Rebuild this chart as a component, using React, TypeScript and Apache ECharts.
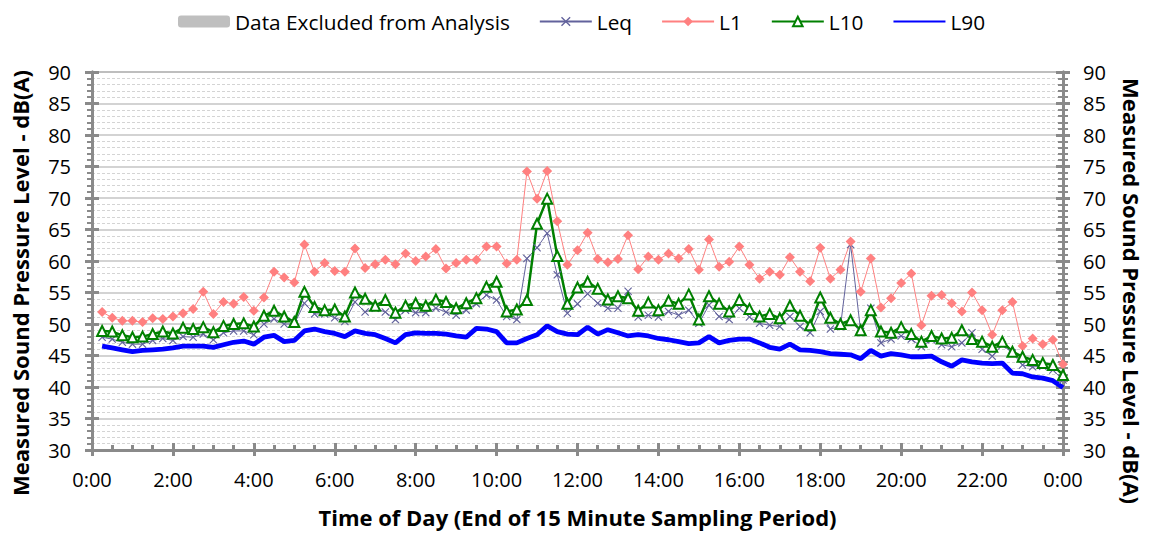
import React, { useEffect, useRef } from "react";
import * as echarts from "echarts";

// End of each 15-minute sampling period
const sampleEnd = [
  "0:15","0:30","0:45","1:00","1:15","1:30","1:45","2:00",
  "2:15","2:30","2:45","3:00","3:15","3:30","3:45","4:00",
  "4:15","4:30","4:45","5:00","5:15","5:30","5:45","6:00",
  "6:15","6:30","6:45","7:00","7:15","7:30","7:45","8:00",
  "8:15","8:30","8:45","9:00","9:15","9:30","9:45","10:00",
  "10:15","10:30","10:45","11:00","11:15","11:30","11:45","12:00",
  "12:15","12:30","12:45","13:00","13:15","13:30","13:45","14:00",
  "14:15","14:30","14:45","15:00","15:15","15:30","15:45","16:00",
  "16:15","16:30","16:45","17:00","17:15","17:30","17:45","18:00",
  "18:15","18:30","18:45","19:00","19:15","19:30","19:45","20:00",
  "20:15","20:30","20:45","21:00","21:15","21:30","21:45","22:00",
  "22:15","22:30","22:45","23:00","23:15","23:30","23:45","24:00",
];

const leq = [
  47.9, 47.6, 47.1, 46.8, 46.8, 47.4, 47.7, 47.4, 48.0, 47.9, 48.4, 47.5,
  48.6, 48.9, 48.9, 48.3, 50.0, 50.8, 50.0, 50.0, 53.3, 51.6, 51.6, 51.0,
  50.4, 53.5, 51.9, 52.5, 51.9, 50.7, 52.2, 51.8, 51.8, 52.5, 51.9, 51.4,
  52.2, 53.2, 54.6, 53.8, 51.2, 50.7, 60.4, 62.1, 64.4, 57.8, 51.7, 53.2,
  54.8, 53.3, 52.5, 52.5, 55.2, 51.1, 51.4, 51.1, 52.0, 51.4, 52.2, 50.1,
  53.0, 51.2, 50.7, 52.5, 51.1, 50.1, 49.8, 49.6, 51.2, 49.6, 48.6, 52.0,
  49.2, 49.6, 62.6, 48.8, 52.5, 47.0, 47.6, 48.1, 47.6, 46.4, 47.5, 46.7,
  46.4, 47.0, 48.6, 46.0, 44.9, 46.7, 45.4, 43.5, 43.2, 43.3, 42.7, 41.1,
];

const l1 = [
  51.9, 51.0, 50.5, 50.5, 50.3, 50.9, 50.8, 51.2, 51.7, 52.4, 55.1, 51.6,
  53.5, 53.2, 54.3, 52.1, 54.2, 58.3, 57.4, 56.6, 62.6, 58.3, 59.7, 58.4,
  58.3, 62.0, 58.9, 59.5, 60.2, 59.5, 61.2, 60.0, 60.7, 61.9, 58.8, 59.7,
  60.2, 60.2, 62.3, 62.3, 59.6, 60.2, 74.2, 69.9, 74.3, 66.3, 59.4, 61.7,
  64.5, 60.3, 59.8, 60.3, 64.1, 58.7, 60.7, 60.2, 61.2, 60.4, 61.9, 58.6,
  63.4, 59.1, 59.9, 62.3, 59.4, 57.2, 58.3, 57.8, 60.6, 58.3, 56.8, 62.1,
  57.2, 58.6, 63.1, 55.1, 60.4, 52.6, 54.1, 56.5, 58.0, 49.8, 54.5, 54.6,
  53.3, 52.0, 55.0, 52.2, 48.3, 52.2, 53.5, 46.5, 47.7, 46.8, 47.5, 43.6,
];

const l10 = [
  48.9, 48.8, 48.2, 47.9, 48.0, 48.4, 48.8, 48.5, 49.4, 49.2, 49.5, 48.7,
  49.7, 50.0, 50.1, 49.6, 51.3, 52.1, 51.2, 50.3, 55.1, 52.7, 52.2, 52.3,
  51.2, 55.0, 54.0, 52.9, 53.8, 51.8, 52.9, 53.3, 52.9, 53.9, 53.5, 52.5,
  53.3, 54.1, 55.9, 56.7, 52.0, 52.3, 53.8, 65.9, 69.9, 60.8, 53.2, 55.8,
  56.7, 55.6, 53.9, 54.4, 54.1, 52.1, 53.4, 52.2, 53.7, 53.2, 54.7, 50.7,
  54.4, 53.2, 52.0, 53.8, 52.4, 51.2, 51.6, 50.9, 52.9, 51.3, 49.8, 54.2,
  51.0, 50.0, 50.6, 49.0, 52.2, 48.8, 48.6, 49.5, 48.4, 47.2, 48.1, 47.7,
  47.8, 49.0, 47.6, 47.2, 46.4, 47.2, 45.6, 44.8, 44.3, 43.8, 43.5, 41.9,
];

const l90 = [
  46.5, 46.2, 45.9, 45.6, 45.8, 45.9, 46.0, 46.2, 46.5, 46.5, 46.5, 46.3,
  46.7, 47.1, 47.3, 46.8, 47.9, 48.2, 47.2, 47.4, 48.9, 49.2, 48.8, 48.5,
  48.0, 48.9, 48.5, 48.3, 47.7, 47.0, 48.3, 48.6, 48.5, 48.5, 48.4, 48.1,
  47.9, 49.3, 49.2, 48.8, 47.0, 47.0, 47.7, 48.3, 49.7, 48.8, 48.4, 48.3,
  49.5, 48.4, 49.1, 48.6, 48.1, 48.3, 48.1, 47.7, 47.5, 47.2, 46.9, 47.0,
  48.0, 47.0, 47.4, 47.6, 47.6, 47.0, 46.3, 46.0, 46.8, 45.9, 45.8, 45.6,
  45.3, 45.2, 45.1, 44.5, 45.8, 44.9, 45.3, 45.1, 44.8, 44.8, 44.9, 44.0,
  43.3, 44.3, 44.0, 43.8, 43.7, 43.8, 42.2, 42.1, 41.6, 41.4, 41.0, 39.9,
];

const seriesNames = ["Data Excluded from Analysis", "Leq", "L1", "L10", "L90"];
const xTitle = "Time of Day (End of 15 Minute Sampling Period)";
const yTitle = "Measured Sound Pressure Level - dB(A)";

const toMinutes = (s: string) => {
  const [h, m] = s.split(":").map(Number);
  return h * 60 + m;
};
const fmtTime = (v: number) => {
  const h = Math.floor(v / 60) % 24;
  const m = Math.round(v % 60);
  return `${h}:${m < 10 ? "0" + m : m}`;
};
const pairs = (vals: number[]) => vals.map((v, i) => [toMinutes(sampleEnd[i]), v]);

const FONT = "Open Sans";
const CROSS =
  "path://M1,0L5,4L9,0L10,1L6,5L10,9L9,10L5,6L1,10L0,9L4,5L0,1Z";

export default function App() {
  const ref = useRef<HTMLDivElement>(null);
  useEffect(() => {
    document.body.style.margin = "0";
    if (!ref.current) return;
    const chart = echarts.init(ref.current, undefined, { renderer: "svg" });
    const axisGrey = "#8A8A8A";
    const titleStyle = { fontFamily: FONT, fontSize: 22, fontWeight: "bold" as const, color: "#000" };
    const yBase = {
      type: "value" as const,
      min: 30,
      max: 90,
      interval: 5,
      axisLine: { show: true, lineStyle: { color: axisGrey, width: 3 } },
    };
    const xBase = {
      type: "value" as const,
      min: 0,
      max: 1440,
      interval: 120,
      axisLine: { show: true, lineStyle: { color: axisGrey, width: 3 } },
    };
    chart.setOption({
      animation: false,
      textStyle: { fontFamily: FONT },
      grid: {
        left: 92,
        right: 84,
        top: 72,
        bottom: 83,
        show: true,
        borderColor: "#595959",
        borderWidth: 1,
      },
      legend: {
        top: 6,
        left: 173,
        itemWidth: 52,
        itemHeight: 12,
        itemGap: 29,
        textStyle: { fontFamily: FONT, fontSize: 20.8, color: "#000" },
        data: [
          seriesNames[0],
          seriesNames[1],
          seriesNames[2],
          seriesNames[3],
          { name: seriesNames[4], itemStyle: { opacity: 0 } },
        ],
      },
      xAxis: [
        {
          ...xBase,
          position: "bottom",
          name: xTitle,
          nameLocation: "middle",
          nameGap: 56,
          nameTextStyle: titleStyle,
          axisLabel: {
            formatter: (v: number) => fmtTime(v),
            fontSize: 20,
            color: "#000",
            margin: 19,
            fontFamily: FONT,
          },
          axisTick: { show: true, inside: true, length: 7, lineStyle: { color: axisGrey, width: 3 } },
          minorTick: { show: true, splitNumber: 4, length: 5, lineStyle: { color: axisGrey, width: 3 } },
          splitLine: { show: false },
        },
        {
          ...xBase,
          position: "bottom",
          axisLabel: { show: false },
          axisTick: { show: true, inside: false, length: 6, lineStyle: { color: axisGrey, width: 3 } },
          splitLine: { show: false },
        },
      ],
      yAxis: [
        {
          ...yBase,
          position: "left",
          name: yTitle,
          nameLocation: "middle",
          nameGap: 61,
          nameRotate: 90,
          nameTextStyle: { ...titleStyle, padding: [0, 44, 0, 0] },
          axisLabel: { fontSize: 20, color: "#000", margin: 21, fontFamily: FONT },
          axisTick: { show: true, inside: false, length: 7, lineStyle: { color: axisGrey, width: 3 } },
          minorTick: { show: true, splitNumber: 5, length: 5, lineStyle: { color: axisGrey, width: 2 } },
          splitLine: { show: true, lineStyle: { color: "#C4C4C4", width: 1.5 } },
          minorSplitLine: { show: true, lineStyle: { color: "#D4D4D4", width: 1, type: [3, 2] } },
        },
        {
          ...yBase,
          position: "left",
          axisLabel: { show: false },
          axisTick: { show: true, inside: true, length: 7, lineStyle: { color: axisGrey, width: 3 } },
          splitLine: { show: false },
        },
        {
          ...yBase,
          position: "right",
          name: yTitle,
          nameLocation: "middle",
          nameGap: 58,
          nameRotate: -90,
          nameTextStyle: { ...titleStyle, padding: [0, 0, 0, 60] },
          axisLabel: { fontSize: 20, color: "#000", margin: 20, fontFamily: FONT },
          axisTick: { show: true, inside: false, length: 7, lineStyle: { color: axisGrey, width: 3 } },
          minorTick: { show: true, splitNumber: 5, length: 5, lineStyle: { color: axisGrey, width: 2 } },
          splitLine: { show: false },
        },
        {
          ...yBase,
          position: "right",
          axisLabel: { show: false },
          axisTick: { show: true, inside: true, length: 7, lineStyle: { color: axisGrey, width: 3 } },
          minorTick: { show: true, inside: true, splitNumber: 5, length: 5, lineStyle: { color: axisGrey, width: 2 } },
          splitLine: { show: false },
        },
      ],
      series: [
        {
          name: seriesNames[0],
          type: "bar",
          data: [],
          itemStyle: { color: "#BFBFBF" },
        },
        {
          name: seriesNames[1],
          type: "line",
          data: pairs(leq),
          symbol: CROSS,
          symbolSize: 8,
          itemStyle: { color: "#62629C" },
          lineStyle: { color: "#62629C", width: 1 },
        },
        {
          name: seriesNames[2],
          type: "line",
          data: pairs(l1),
          symbol: "diamond",
          symbolSize: 10,
          itemStyle: { color: "#FF8080" },
          lineStyle: { color: "#FF8080", width: 1 },
        },
        {
          name: seriesNames[3],
          type: "line",
          data: pairs(l10),
          symbol: "triangle",
          symbolSize: 10,
          itemStyle: { color: "#FFFFFF", borderColor: "#008000", borderWidth: 2 },
          lineStyle: { color: "#008000", width: 2.5 },
        },
        {
          name: seriesNames[4],
          type: "line",
          data: pairs(l90),
          symbol: "none",
          itemStyle: { color: "#0000FF" },
          lineStyle: { color: "#0000FF", width: 4.8 },
        },
      ],
    });
    return () => chart.dispose();
  }, []);
  return <div ref={ref} style={{ width: 1151, height: 533 }} />;
}
